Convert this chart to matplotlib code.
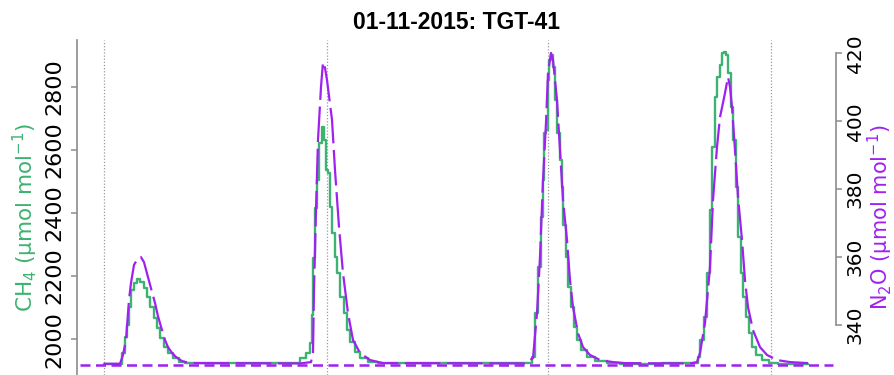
import matplotlib
matplotlib.use("Agg")
import matplotlib.pyplot as plt

# ===== data (time in s) =====
ch4_time = [
    27, 43, 46, 49, 51, 53, 55, 58, 61, 65, 68, 71, 75, 78, 81, 85, 88, 93, 98, 105, 111,
    220, 226, 231, 234, 235, 237, 239, 241, 243, 246, 248, 250, 252, 254, 256, 259, 261, 265, 268, 271, 275, 280, 286, 296, 306,
    453, 456, 460, 462, 465, 466, 468, 470, 471, 473, 475, 476, 479, 481, 484, 485, 487, 490, 492, 495, 498, 501, 506, 513, 523, 536, 550,
    620, 621, 625, 628, 631, 634, 636, 639, 641, 644, 646, 647, 650, 652, 655, 657, 660, 662, 665, 667, 670, 673, 676, 681, 688, 696, 706, 731,
]
ch4_value = [
    1922, 1922, 1956, 2006, 2044, 2102, 2156, 2178, 2191, 2181, 2162, 2133, 2102, 2067, 2035, 2003, 1975, 1956, 1940, 1927, 1924,
    1923, 1940, 1956, 1987, 2076, 2257, 2416, 2505, 2622, 2673, 2632, 2537, 2527, 2419, 2337, 2260, 2210, 2133, 2083, 2029, 1990, 1959, 1940, 1927, 1924,
    1924, 1943, 2083, 2229, 2387, 2505, 2654, 2664, 2822, 2886, 2902, 2864, 2759, 2654, 2568, 2483, 2362, 2260, 2165, 2102, 2038, 1997, 1965, 1943, 1930, 1924, 1922,
    1924, 1943, 1997, 2070, 2210, 2410, 2610, 2768, 2832, 2870, 2908, 2911, 2902, 2845, 2737, 2632, 2483, 2324, 2210, 2133, 2070, 2019, 1975, 1949, 1933, 1924, 1922, 1922,
]

n2o_time = [
    27, 43, 46, 49, 52, 54, 57, 61, 64, 67, 71, 75, 78, 81, 85, 88, 91, 95, 99, 105, 113,
    223, 234, 236, 237, 239, 241, 244, 246, 248, 250, 255, 258, 262, 266, 271, 276, 283, 293, 306,
    448, 456, 460, 463, 466, 469, 471, 474, 476, 480, 483, 486, 490, 493, 496, 501, 506, 513, 523, 536, 548,
    613, 620, 623, 628, 633, 636, 640, 643, 646, 648, 651, 653, 655, 658, 661, 665, 668, 671, 676, 683, 690, 700, 713, 731,
]
n2o_value = [
    328.6, 328.6, 331.2, 335.6, 347.4, 352.4, 357.7, 359.7, 360.0, 358.5, 354.1, 349.7, 346.5, 342.6, 338.5, 335.6, 333.5, 331.8, 330.6, 329.4, 328.8,
    328.7, 329.1, 331.8, 350.3, 373.9, 394.5, 410.1, 417.4, 415.7, 412.1, 400.4, 385.6, 368.9, 355.3, 343.5, 335.6, 331.8, 329.7, 328.8,
    328.7, 330.3, 343.5, 360.0, 382.7, 399.5, 414.2, 420.1, 418.0, 406.2, 391.5, 376.8, 365.0, 353.2, 345.3, 337.6, 333.5, 331.2, 329.7, 329.1, 328.8,
    328.7, 329.1, 331.8, 340.6, 357.1, 376.8, 392.4, 401.2, 405.4, 408.3, 413.0, 410.1, 404.2, 391.5, 377.7, 365.0, 353.2, 345.3, 338.5, 333.5, 331.2, 329.7, 329.1, 328.8,
]

n2o_ref = 328.2                      # dashed reference level
marker_times = [27, 250, 471, 694]   # dotted vertical markers

ch4_ticks = [2000, 2200, 2400, 2600, 2800]
n2o_ticks = [340, 360, 380, 400, 420]

green = "#3cb371"
purple = "#a020f0"
grey = "#8c8c8c"

# ===== figure =====
fig = plt.figure(figsize=(8.94, 3.75), dpi=100)
ax = fig.add_axes([77 / 894, 0, 759 / 894, 335 / 375])
ax2 = ax.twinx()

ax.set_xlim(0, 759)
ax.set_ylim(1886, 2949)
ax2.set_ylim(325.3, 423.9)

for t in marker_times:
    ax.axvline(t, color="#9a9a9a", lw=0.9, ls=(0, (1, 1.5)))

ax.plot(ch4_time, ch4_value, drawstyle="steps-mid", color=green, lw=1.7)
ax2.axhline(n2o_ref, xmin=0.004, xmax=0.996, color=purple, lw=1.8, dashes=(4, 2.2))
ax2.plot(n2o_time, n2o_value, color=purple, lw=1.6, dashes=(16, 3))

# spines
for s in ["top", "bottom", "right"]:
    ax.spines[s].set_visible(False)
for s in ["top", "bottom", "left"]:
    ax2.spines[s].set_visible(False)
ax.spines["left"].set_color(grey)
ax.spines["left"].set_linewidth(1.2)
ax2.spines["right"].set_color(grey)
ax2.spines["right"].set_linewidth(1.2)
ax2.spines["right"].set_bounds(340, 420)

ax.set_xticks([])
ax.set_yticks(ch4_ticks, labels=[str(v) for v in ch4_ticks], rotation=90, va="center")
ax2.set_yticks(n2o_ticks, labels=[str(v) for v in n2o_ticks], rotation=90, va="center")
ax.tick_params(axis="y", length=4, width=1.1, color=grey, labelsize=16, pad=5)
ax2.tick_params(axis="y", length=4, width=1.1, color=grey, labelsize=14.5, pad=3)

ax.set_ylabel("CH$_4$ (µmol mol$^{-1}$)", color=green, fontsize=15.5, va="center")
ax.yaxis.set_label_coords(-0.068, 0.47)
ax2.set_ylabel("N$_2$O (µmol mol$^{-1}$)", color=purple, fontsize=15, rotation=90, va="center")
ax2.yaxis.set_label_coords(1.059, 0.47)

ax.set_title("01-11-2015: TGT-41", fontsize=16.5, fontweight="bold",
             family=["Liberation Sans Narrow", "Liberation Sans", "DejaVu Sans"], pad=8)

fig.savefig("out.png", dpi=100)
